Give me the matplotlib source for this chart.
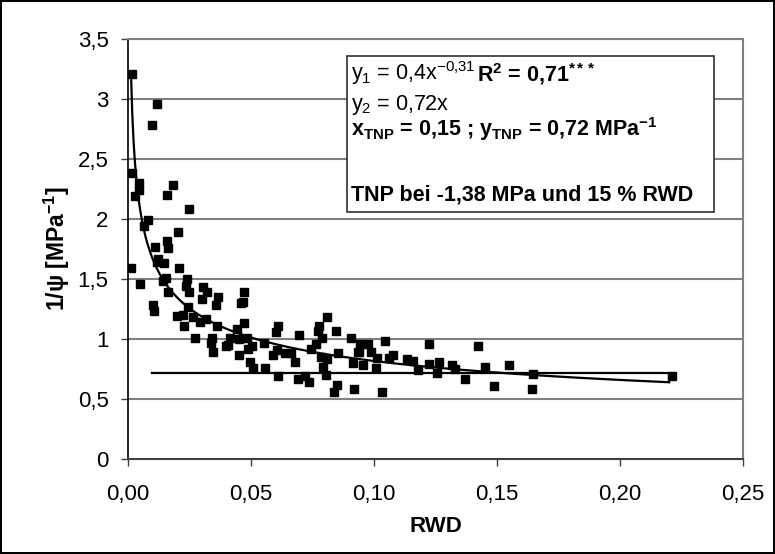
import numpy as np
import matplotlib
matplotlib.use("Agg")
import matplotlib.pyplot as plt
from matplotlib.patches import Rectangle
from matplotlib.ticker import FuncFormatter

plt.rcParams['font.family'] = ['Liberation Sans', 'DejaVu Sans']
plt.rcParams['mathtext.fontset'] = 'custom'
plt.rcParams['mathtext.rm'] = 'Liberation Sans'
plt.rcParams['mathtext.it'] = 'Liberation Sans:italic'
plt.rcParams['mathtext.bf'] = 'Liberation Sans:bold'

# measured points (RWD, 1/psi)
rwd = [0.0015, 0.0117, 0.0099, 0.0015, 0.0045, 0.0045, 0.0030, 0.0184, 0.0157, 0.0249,
       0.0080, 0.0066, 0.0202, 0.0157, 0.0164, 0.0110, 0.0123, 0.0117, 0.0148, 0.0012,
       0.0209, 0.0154, 0.0141, 0.0241, 0.0049, 0.0234, 0.0164, 0.0249, 0.0304, 0.0320,
       0.0300, 0.0367, 0.0358, 0.0472, 0.0466, 0.0458, 0.0103, 0.0106, 0.0245, 0.0200,
       0.0222, 0.0228, 0.0266, 0.0293, 0.0317, 0.0363, 0.0472, 0.0442, 0.0272, 0.0340,
       0.0336, 0.0415, 0.0408, 0.0453, 0.0482, 0.0503, 0.0398, 0.0347, 0.0453, 0.0489,
       0.0496, 0.0507, 0.0808, 0.0608, 0.0600, 0.0778, 0.0774, 0.0846, 0.0695, 0.0787,
       0.0905, 0.0553, 0.0764, 0.0604, 0.0588, 0.0638, 0.0661, 0.0743, 0.0855, 0.0936,
       0.0783, 0.0810, 0.0679, 0.0916, 0.0557, 0.0791, 0.0611, 0.0692, 0.0720, 0.0736,
       0.0805, 0.0851, 0.0837, 0.0919, 0.0943, 0.0977, 0.1045, 0.1225, 0.0940, 0.0986,
       0.0957, 0.1011, 0.1008, 0.1062, 0.1076, 0.1133, 0.1160, 0.1178, 0.1225, 0.1255,
       0.1265, 0.1316, 0.1329, 0.1031, 0.1424, 0.1370, 0.1451, 0.1550, 0.1489, 0.1648,
       0.1641, 0.2210]
inv_psi = [3.21, 2.96, 2.78, 2.38, 2.30, 2.24, 2.19, 2.28, 2.20, 2.08,
           1.99, 1.94, 1.89, 1.82, 1.76, 1.77, 1.67, 1.64, 1.63, 1.59,
           1.59, 1.51, 1.48, 1.50, 1.46, 1.44, 1.39, 1.39, 1.43, 1.39,
           1.33, 1.35, 1.28, 1.39, 1.31, 1.30, 1.28, 1.23, 1.27, 1.19,
           1.20, 1.11, 1.18, 1.14, 1.17, 1.11, 1.13, 1.08, 1.01, 1.01,
           0.97, 1.01, 0.95, 1.00, 1.01, 0.94, 0.94, 0.89, 0.87, 0.92,
           0.81, 0.76, 1.18, 1.11, 1.06, 1.11, 1.07, 1.07, 1.03, 1.01,
           1.01, 0.97, 0.96, 0.91, 0.87, 0.88, 0.88, 0.92, 0.88, 0.89,
           0.85, 0.83, 0.81, 0.80, 0.76, 0.77, 0.69, 0.67, 0.69, 0.64,
           0.70, 0.62, 0.56, 0.58, 0.96, 0.96, 0.98, 0.96, 0.89, 0.89,
           0.78, 0.84, 0.76, 0.84, 0.87, 0.83, 0.82, 0.74, 0.79, 0.72,
           0.81, 0.78, 0.75, 0.56, 0.94, 0.67, 0.77, 0.78, 0.61, 0.71,
           0.58, 0.69]

# fits
a_pow, b_pow = 0.4, -0.31
pow_range = (0.0012, 0.22)
y2_level = 0.72
y2_range = (0.0098, 0.22)

xticks = [0.0, 0.05, 0.10, 0.15, 0.20, 0.25]
yticks = [0, 0.5, 1, 1.5, 2, 2.5, 3, 3.5]

fig = plt.figure(figsize=(7.75, 5.54), dpi=100)
fig.patch.set_edgecolor('black')
fig.patch.set_linewidth(1.5)
ax = fig.add_axes([0.1652, 0.1715, 0.7935, 0.7581])

for yv in yticks[1:]:
    ax.axhline(yv, color='#808080', lw=1.5, zorder=0)

ax.plot(rwd, inv_psi, 's', color='black', markersize=5.5, zorder=3)

xs = np.linspace(pow_range[0], pow_range[1], 400)
ax.plot(xs, a_pow * xs ** b_pow, color='black', lw=1.6, zorder=4)
ax.plot([y2_range[0], y2_range[1], y2_range[1]],
        [y2_level, y2_level, a_pow * y2_range[1] ** b_pow],
        color='black', lw=1.6, zorder=4)

ax.set_xlim(0, 0.25)
ax.set_ylim(0, 3.5)
ax.set_xticks(xticks)
ax.set_yticks(yticks)
ax.xaxis.set_major_formatter(FuncFormatter(lambda v, p: f"{v:.2f}".replace('.', ',')))
ax.yaxis.set_major_formatter(FuncFormatter(lambda v, p: f"{v:g}".replace('.', ',')))
ax.tick_params(axis='both', labelsize=16, direction='out', length=5, width=1,
               color='#404040')
ax.tick_params(axis='x', pad=13)
ax.tick_params(axis='y', pad=9)

for s in ['top', 'right']:
    ax.spines[s].set_color('#808080')
    ax.spines[s].set_linewidth(1.5)
ax.spines['left'].set_color('black')
ax.spines['bottom'].set_color('#404040')
ax.spines['left'].set_linewidth(1.2)
ax.spines['bottom'].set_linewidth(1.5)

ax.set_xlabel('RWD', fontsize=16, fontweight='bold', labelpad=8)
ax.set_ylabel(r'1/ψ [MPa$^{\mathbf{-1}}$]', fontsize=16.5, fontweight='bold', labelpad=4)

# annotation box
ax.add_patch(Rectangle((0.356, 0.588), 0.597, 0.3715, transform=ax.transAxes,
                       facecolor='white', edgecolor='#303030', lw=1.2, zorder=5))
tx = 0.362
fs = 15.5
t1 = ax.text(tx, 0.903, r'y$_1$ = 0,4x$^{-0{,}31}$ ',
             transform=ax.transAxes, fontsize=fs, va='baseline', ha='left', zorder=6)
ax.annotate(r'R$^{\mathbf{2}}$ = 0,71$^{\mathbf{***}}$', xy=(1, 0), xycoords=t1,
            xytext=(0, 0), textcoords='offset points', fontsize=fs,
            fontweight='bold', va='bottom', ha='left', zorder=6)
ax.text(tx, 0.843, r'y$_2$ = 0,72x', transform=ax.transAxes, fontsize=fs,
        va='center', ha='left', zorder=6)
ax.text(tx, 0.785,
        r'x$_{\mathbf{TNP}}$ = 0,15 ; y$_{\mathbf{TNP}}$ = 0,72 MPa$^{\mathbf{-1}}$',
        transform=ax.transAxes, fontsize=fs, fontweight='bold', va='center',
        ha='left', zorder=6)
ax.text(tx, 0.629, 'TNP bei -1,38 MPa und 15 % RWD', transform=ax.transAxes,
        fontsize=fs, fontweight='bold', va='center', ha='left', zorder=6)

fig.savefig('out.png', dpi=100)
